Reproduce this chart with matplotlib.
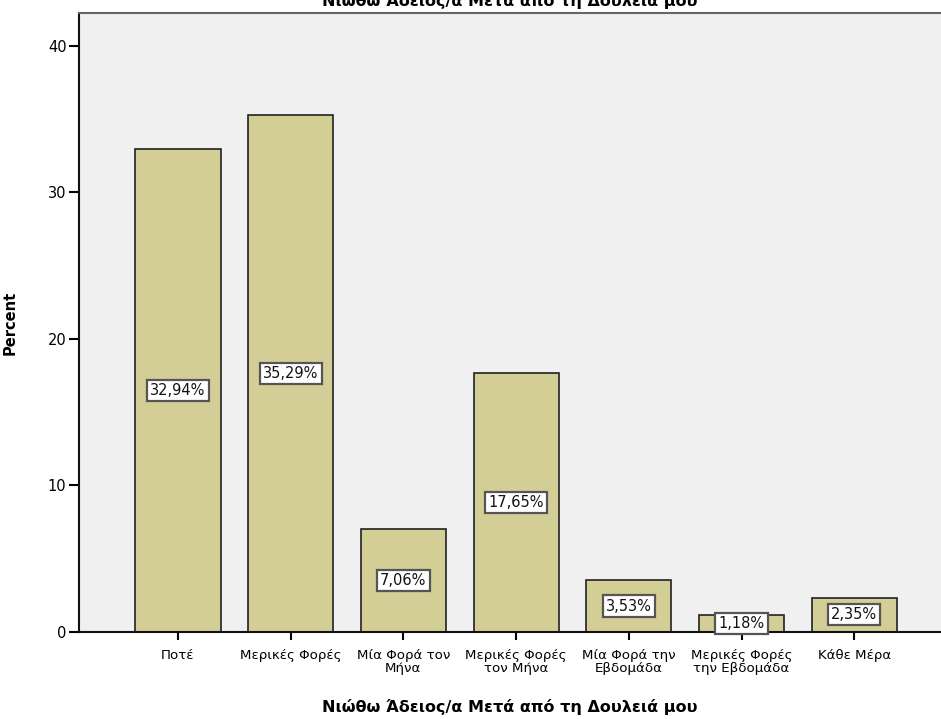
import numpy as np
import matplotlib.pyplot as plt

# Frequencies of responses (percent)
categories = ['Ποτέ', 'Μερικές Φορές', 'Μία Φορά τον\nΜήνα', 'Μερικές Φορές\nτον Μήνα',
              'Μία Φορά την\nΕβδομάδα', 'Μερικές Φορές\nτην Εβδομάδα', 'Κάθε Μέρα']
percents = [32.94, 35.29, 7.06, 17.65, 3.53, 1.18, 2.35]
yticks = [0, 10, 20, 30, 40]
title = 'Νιώθω Άδειος/α Μετά από τη Δουλειά μου'

fig = plt.figure(figsize=(9.41, 7.19), dpi=100)
ax = fig.add_axes([79 / 941, 1 - 632 / 719, 1 - 79 / 941, (632 - 13) / 719])
ax.set_facecolor('#f0f0f0')

x = np.arange(len(categories))
ax.bar(x, percents, width=0.755, color='#d3cd96', edgecolor='#222222', linewidth=1.2, zorder=2)

for xi, p in zip(x, percents):
    ax.text(xi, p / 2, f'{p:.2f}%'.replace('.', ','), ha='center', va='center', fontsize=10.5,
            color='#111111', zorder=4,
            bbox=dict(boxstyle='square,pad=0.22', facecolor='white', edgecolor='#555555', linewidth=1.6))

ax.set_xlim(-0.878, 6.77)
ax.set_ylim(0, 42.25)
ax.set_yticks(yticks)
ax.set_xticks(x)
ax.set_xticklabels(categories, fontsize=9.6, linespacing=1.05)
ax.tick_params(axis='y', direction='out', length=7, width=1.5, labelsize=10.5, pad=2)
ax.tick_params(axis='x', direction='out', length=6, width=1.5, pad=6)

for side in ['left', 'bottom']:
    ax.spines[side].set_color('#111111')
    ax.spines[side].set_linewidth(1.5)
ax.spines['top'].set_color('#666666')
ax.spines['top'].set_linewidth(1.5)
ax.spines['right'].set_visible(False)

ax.set_ylabel('Percent', fontsize=10.5, fontweight='bold')
ax.yaxis.set_label_coords(-79 / 862 + 18 / 862, 0.5)
fig.text(510 / 941, 1 - 707 / 719, title, ha='center', va='center', fontsize=11.5, fontweight='bold')
fig.text(510 / 941, 1 - 1 / 719, title, ha='center', va='center', fontsize=11.5, fontweight='bold')

fig.savefig('out.png', dpi=100)
